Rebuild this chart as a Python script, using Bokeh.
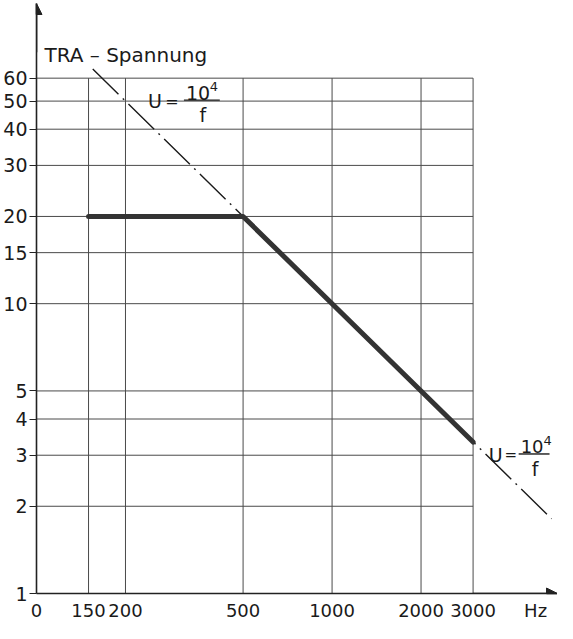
from math import log10
from bokeh.plotting import figure
from bokeh.models import (Range1d, FixedTicker, Label, Arrow, NormalHead,
                          NumeralTickFormatter, LogAxis)
from bokeh.embed import file_html
from bokeh.resources import INLINE

# ---------------- data ----------------
grid_freqs = [150, 200, 500, 1000, 2000, 3000]
grid_volts = [2, 3, 4, 5, 10, 15, 20, 30, 40, 50, 60]
x_ticks = [100, 150, 200, 500, 1000, 2000, 3000]
x_tick_labels = ["0", "150", "200", "500", "1000", "2000", "3000"]
y_ticks = [1, 2, 3, 4, 5, 10, 15, 20, 30, 40, 50, 60]
tra_f = [150, 500, 3000]
tra_u = [20, 20, 3.33]
hyper_f = [155, 5530]
hyper_u = [64.5, 1.81]
x_unit = "Hz"
y_unit = "V"

# ---------------- layout ----------------
W, H = 557, 623
FL, FR, FT, FB = 34, 557, 3, 595      # frame edges in canvas px
PPD_X, PPD_Y = 296.7, 290.8           # px per decade
X0, Y0 = 100, 1
X1 = 10 ** (log10(X0) + (FR - FL) / PPD_X)
Y1 = 10 ** (log10(Y0) + (FB - FT) / PPD_Y)
FONT = "DejaVu Sans"
INK = "#1a1a1a"


def fx(px):
    """picture x (incl. 8px page margin) -> data x"""
    return 10 ** (log10(X0) + (px - 8 - FL) / PPD_X)


def fy(py):
    return 10 ** (log10(Y0) + (FB - (py - 8)) / PPD_Y)


p = figure(width=W, height=H, x_axis_type="log", y_axis_type="log",
           x_range=Range1d(X0, X1), y_range=Range1d(Y0, Y1),
           output_backend="svg", toolbar_location=None,
           min_border_left=FL, min_border_right=W - FR,
           min_border_top=FT, min_border_bottom=H - FB)
p.outline_line_color = None
p.xgrid.visible = False
p.ygrid.visible = False
p.background_fill_color = "white"
p.border_fill_color = "white"

# the unit "Hz" sits in the tick-label row, right of 3000
hz_pos = round(fx(543))
xa = p.xaxis[0]
xa.ticker = FixedTicker(ticks=x_ticks + [hz_pos], minor_ticks=[])
xa.formatter = NumeralTickFormatter(format="0")
overrides = {t: s for t, s in zip(x_ticks, x_tick_labels)}
overrides[hz_pos] = x_unit
xa.major_label_overrides = overrides
ya = p.yaxis[0]
ya.ticker = FixedTicker(ticks=y_ticks, minor_ticks=[])
ya.formatter = NumeralTickFormatter(format="0")
for ax, so, to, fs in ((xa, 6, 0, "18px"), (ya, 2, 7, "19px")):
    ax.major_tick_out = to
    ax.major_tick_in = 0
    ax.minor_tick_out = 0
    ax.minor_tick_in = 0
    ax.major_label_standoff = so
    ax.major_label_text_font = FONT
    ax.major_label_text_font_size = fs
    ax.major_label_text_color = INK
    ax.axis_line_width = 1.6
    ax.axis_line_color = "#222222"
    ax.major_tick_line_color = "#222222"
    ax.major_tick_line_width = 1.2

# tick marks only (no labels) along the frequency axis, drawn at U = 1
tick_axis = LogAxis(ticker=FixedTicker(ticks=x_ticks, minor_ticks=[]),
                    fixed_location=Y0, axis_line_color=None,
                    major_tick_out=6, major_tick_in=0, minor_tick_out=0, minor_tick_in=0,
                    major_tick_line_color="#222222", major_tick_line_width=1.2,
                    major_label_overrides={t: "" for t in x_ticks},
                    major_label_text_font_size="1px")
p.add_layout(tick_axis, "below")

# grid (only up to 60 V / 3000 Hz)
n = len(grid_freqs)
p.segment(x0=grid_freqs, y0=[Y0] * n, x1=grid_freqs, y1=[max(grid_volts)] * n,
          line_color="#4a4a4a", line_width=1)
m = len(grid_volts)
p.segment(x0=[X0] * m, y0=grid_volts, x1=[max(grid_freqs)] * m, y1=grid_volts,
          line_color="#4a4a4a", line_width=1)

# U = 10^4/f dash-dot line
p.line(hyper_f, hyper_u, line_color=INK, line_width=1.4, line_dash="36 6 2 6")

# TRA voltage (thick)
p.line(tra_f, tra_u, line_color="#333333", line_width=5, line_join="round", line_cap="round")

# axis arrows
p.add_layout(Arrow(end=NormalHead(size=11, fill_color="#222222", line_color="#222222"),
                   x_start=X0, y_start=fy(60), x_end=X0, y_end=Y1,
                   line_color="#222222", line_width=1.6))
p.add_layout(Arrow(end=NormalHead(size=11, fill_color="#222222", line_color="#222222"),
                   x_start=fx(480), y_start=Y0, x_end=X1, y_end=Y0,
                   line_color="#222222", line_width=1.6))


def lab(px, py, text, size="19px", align="left", baseline="alphabetic"):
    p.add_layout(Label(x=fx(px), y=fy(py), text=text, text_font=FONT,
                       text_font_size=size, text_align=align, text_baseline=baseline,
                       text_color=INK))


lab(17, 42, y_unit, align="center", baseline="middle")
lab(50, 63, "TRA \u2013 Spannung", size="20px")


def formula(L, B, eq_dx, eq_size, b_dx, bw, ten_size, ten_w):
    lab(L, B + 1, "U", baseline="middle")
    lab(L + eq_dx, B + 1, "=", size=eq_size, align="center", baseline="middle")
    b0 = L + b_dx
    b1 = b0 + bw
    p.line([fx(b0), fx(b1)], [fy(B), fy(B)], line_color=INK, line_width=1.4)
    ten_l = b0 + 2
    lab(ten_l, B - 7, "10", size=ten_size)
    lab(ten_l + ten_w, B - 14, "4", size="13px")
    lab((b0 + b1) / 2 + 1, B + 4, "f", align="center", baseline="top")


formula(154, 108, 24, "16px", 36, 36, "19px", 24)
formula(496, 463, 22, "15px", 30, 31, "18px", 23)

open("out.html", "w").write(file_html(p, INLINE))
